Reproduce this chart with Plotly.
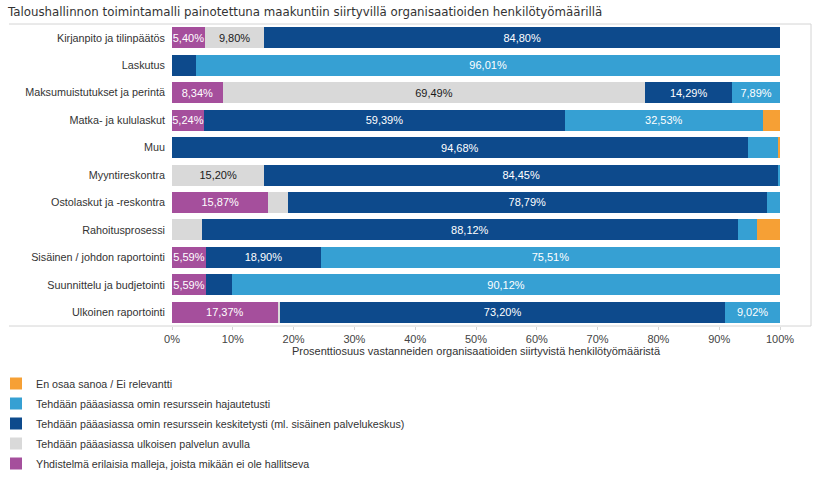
import plotly.graph_objects as go

categories = [
    "Kirjanpito ja tilinpäätös",
    "Laskutus",
    "Maksumuistutukset ja perintä",
    "Matka- ja kululaskut",
    "Muu",
    "Myyntireskontra",
    "Ostolaskut ja -reskontra",
    "Rahoitusprosessi",
    "Sisäinen / johdon raportointi",
    "Suunnittelu ja budjetointi",
    "Ulkoinen raportointi",
]

yhdistelma = [5.40, 0, 8.34, 5.24, 0, 0, 15.87, 0, 5.59, 5.59, 17.37]
ulkoinen = [9.80, 0, 69.49, 0, 0, 15.20, 3.17, 4.93, 0, 0, 0.41]
keskitetysti = [84.80, 3.99, 14.29, 59.39, 94.68, 84.45, 78.79, 88.12, 18.90, 4.29, 73.20]
hajautetusti = [0, 96.01, 7.89, 32.53, 4.98, 0.35, 2.17, 3.15, 75.51, 90.12, 9.02]
en_osaa = [0, 0, 0, 2.84, 0.34, 0, 0, 3.80, 0, 0, 0]

series = [
    ("Yhdistelmä erilaisia malleja, joista mikään ei ole hallitseva", yhdistelma, "#a54f9c", "white", 5),
    ("Tehdään pääasiassa ulkoisen palvelun avulla", ulkoinen, "#d9d9d9", "#1a1a1a", 4),
    ("Tehdään pääasiassa omin resurssein keskitetysti (ml. sisäinen palvelukeskus)", keskitetysti, "#0d4a8c", "white", 3),
    ("Tehdään pääasiassa omin resurssein hajautetusti", hajautetusti, "#36a0d3", "white", 2),
    ("En osaa sanoa / Ei relevantti", en_osaa, "#f6a035", "white", 1),
]

x_ticks = list(range(0, 101, 10))
x_ticklabels = [f"{t}%" for t in x_ticks]

title_text = "Taloushallinnon toimintamalli painotettuna maakuntiin siirtyvillä organisaatioiden henkilötyömäärillä"
x_title = "Prosenttiosuus vastanneiden organisaatioiden siirtyvistä henkilötyömääristä"


def fmt(v):
    return (f"{v:.2f}".replace(".", ",") + "%") if v >= 5 else ""


fig = go.Figure()
for name, vals, color, tcolor, rank in series:
    fig.add_trace(go.Bar(
        y=categories,
        x=vals,
        name=name,
        orientation="h",
        marker=dict(color=color, line=dict(width=0)),
        text=[fmt(v) for v in vals],
        textposition="inside",
        insidetextanchor="middle",
        textangle=0,
        constraintext="none",
        textfont=dict(family="Liberation Sans, Arial, sans-serif", size=11, color=tcolor),
        legendrank=rank,
        legendgroup=name,
        hoverinfo="skip",
    ))

W, H = 818, 480
PL, PW = 172, 608
PT, PH = 24, 302

frame_color = "#d4d4d4"
fx0 = (9 - PL) / PW
fx1 = (811 - PL) / PW
shapes = [
    dict(type="line", xref="paper", yref="paper", x0=fx0, x1=fx1, y0=1, y1=1,
         line=dict(color=frame_color, width=1)),
    dict(type="line", xref="paper", yref="paper", x0=fx1, x1=fx1, y0=0, y1=1,
         line=dict(color=frame_color, width=1)),
    dict(type="line", xref="paper", yref="paper", x0=fx0, x1=fx1, y0=0, y1=0,
         line=dict(color=frame_color, width=1)),
]

fig.update_layout(
    width=W,
    height=H,
    barmode="stack",
    bargap=0.235,
    plot_bgcolor="white",
    paper_bgcolor="white",
    margin=dict(l=PL, r=W - PL - PW, t=PT, b=H - PT - PH, pad=0, autoexpand=False),
    font=dict(family="Liberation Sans, Arial, sans-serif", size=11, color="#333333"),
    title=dict(
        text=title_text,
        x=8 / W, xref="container", xanchor="left",
        y=1 - 12 / H, yref="container", yanchor="middle",
        font=dict(family="DejaVu Sans, Verdana, sans-serif", size=11.8, color="#333333"),
    ),
    xaxis=dict(
        range=[0, 100],
        tickvals=x_ticks,
        ticktext=x_ticklabels,
        tickangle=0,
        showgrid=False,
        zeroline=False,
        showline=False,
        ticks="outside",
        ticklen=3,
        tickcolor=frame_color,
        tickfont=dict(size=11, color="#444444"),
        title=dict(text=x_title, font=dict(size=11, color="#333333"), standoff=3),
        automargin=False,
        fixedrange=True,
    ),
    yaxis=dict(
        autorange="reversed",
        showgrid=False,
        zeroline=False,
        showline=False,
        ticks="",
        ticklabelstandoff=6,
        tickfont=dict(size=10.8, color="#333333"),
        automargin=False,
        fixedrange=True,
    ),
    legend=dict(
        orientation="v",
        xref="paper", yref="container",
        x=(-4 - PL) / PW, y=1 - 369 / H, xanchor="left", yanchor="top",
        traceorder="grouped",
        tracegroupgap=1,
        itemwidth=30,
        font=dict(size=10.7, color="#333333"),
        bgcolor="rgba(0,0,0,0)",
    ),
    shapes=shapes,
    showlegend=True,
)

fig.write_html(
    "out.html",
    config={"displayModeBar": False},
    post_script="document.body.style.margin='0';",
)
